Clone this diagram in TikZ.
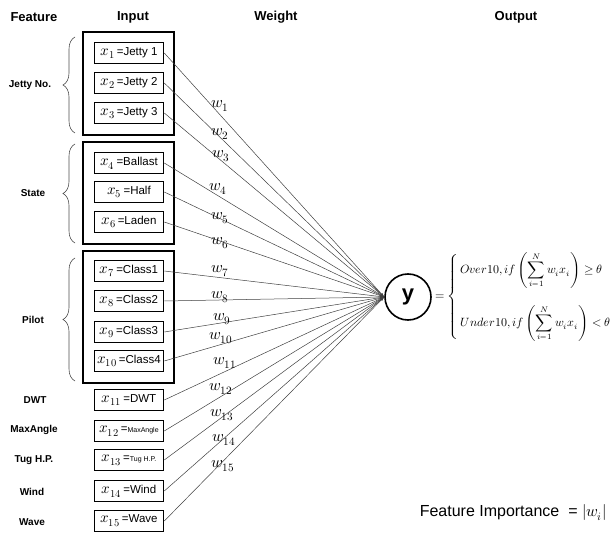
\documentclass[tikz,border=0pt]{standalone}
\usepackage{amsmath}
\usepackage{fontspec}
\usepackage{unicode-math}
\setmainfont{Liberation Sans}
\setmathfont{Latin Modern Math}
\usetikzlibrary{arrows.meta,decorations.pathreplacing}
\newcommand{\bx}[1]{{\fontsize{15}{15}\selectfont$x_{#1}$}}
\begin{document}
\begin{tikzpicture}[x=1pt,y=-1pt,
 hdr/.style={font=\bfseries\fontsize{13}{15}\selectfont},
 feat/.style={font=\bfseries\fontsize{10}{12}\selectfont},
 inbox/.style={draw,line width=1.6pt,minimum width=69pt,minimum height=21pt,inner sep=0pt,font=\fontsize{11.5}{13}\selectfont},
 grp/.style={draw,line width=1.6pt,inner sep=0pt},
 wire/.style={draw=black!75,line width=0.5pt,-{Latex[length=4pt,width=2.5pt]}},
 wlab/.style={font=\fontsize{16}{17}\selectfont,inner sep=0pt,anchor=west},
 brc/.style={decorate,decoration={brace,amplitude=12pt},draw=black!70,line width=0.6pt}
]
\useasboundingbox (0,0) rectangle (613,537);
% headers
\node[hdr] (hf) at (34,17) {Feature};
\node[hdr] (hi) at (133,17) {Input};
\node[hdr] (hw) at (276,17) {Weight};
\node[hdr] (ho) at (516,17) {Output};
% group boxes
\node[grp,minimum width=91pt,minimum height=103pt] (g1) at (128.5,83.5) {};
\node[grp,minimum width=91pt,minimum height=102pt] (g2) at (128.5,193) {};
\node[grp,minimum width=91pt,minimum height=132pt] (g3) at (128.5,317) {};
% braces
\draw[brc] (75,133) coordinate (b1s) -- (75,37) coordinate (b1e);
\draw[brc] (75,243) coordinate (b2s) -- (75,144) coordinate (b2e);
\draw[brc] (75,381) coordinate (b3s) -- (75,258) coordinate (b3e);
% feature labels
\node[feat] (f1) at (30,85) {Jetty No.};
\node[feat] (f2) at (33,193) {State};
\node[feat] (f3) at (33,320) {Pilot};
\node[feat] (f4) at (35,400) {DWT};
\node[feat] (f5) at (34,430) {MaxAngle};
\node[feat] (f6) at (34,460) {Tug H.P.};
\node[feat] (f7) at (32,492) {Wind};
\node[feat] (f8) at (32,522) {Wave};
% input boxes
\foreach \i/\yy/\t in {1/53/Jetty 1,2/83/Jetty 2,3/113/Jetty 3,4/163/Ballast,5/192/Half,6/222/Laden,7/271/Class1,8/301/Class2,9/332/Class3,10/361/Class4,11/400/DWT,14/491/Wind,15/521/Wave}
  \node[inbox] (x\i) at (129,\yy) {\bx{\i}\,=\t};
\node[inbox] (x12) at (129,431) {\bx{12}\,=\fontsize{7}{8}\selectfont MaxAngle};
\node[inbox] (x13) at (129,460) {\bx{13}\,=\fontsize{7}{8}\selectfont Tug H.P.};
% output node
\node[circle,draw,line width=1.6pt,minimum size=46pt,inner sep=0pt,font=\bfseries\fontsize{22}{24}\selectfont] (y) at (408,297) {y};
% wires
\foreach \i in {1,...,15} \draw[wire] (x\i.east) -- (y.west);
% weight labels
\foreach \i/\yy/\xx in {1/106/211,2/134/211,3/156/212,4/189/209,5/218/211,6/243/211,7/271/211,8/297/211,9/319/213,10/338/209,11/363/213,12/389/209,13/415/210,14/440/212,15/466/211}
  \node[wlab] (w\i) at (\xx,\yy) {$w_{\i}$};
% formula
\node[anchor=west,inner sep=0pt,font=\fontsize{12}{14}\selectfont] (eq) at (435,297)
 {$=\left\{\begin{array}{@{\,}l@{}}
 Over10, if\left(\displaystyle\sum_{i=1}^{N} w_i x_i\right)\geq\theta\\[28pt]
 Under10, if\left(\displaystyle\sum_{i=1}^{N} w_i x_i\right)<\theta
 \end{array}\right.$};
\node[anchor=east,inner sep=0pt,font=\fontsize{16}{18}\selectfont] (fi) at (607,513) {Feature Importance\ \ =\ $|w_i|$};
\end{tikzpicture}
\end{document}
